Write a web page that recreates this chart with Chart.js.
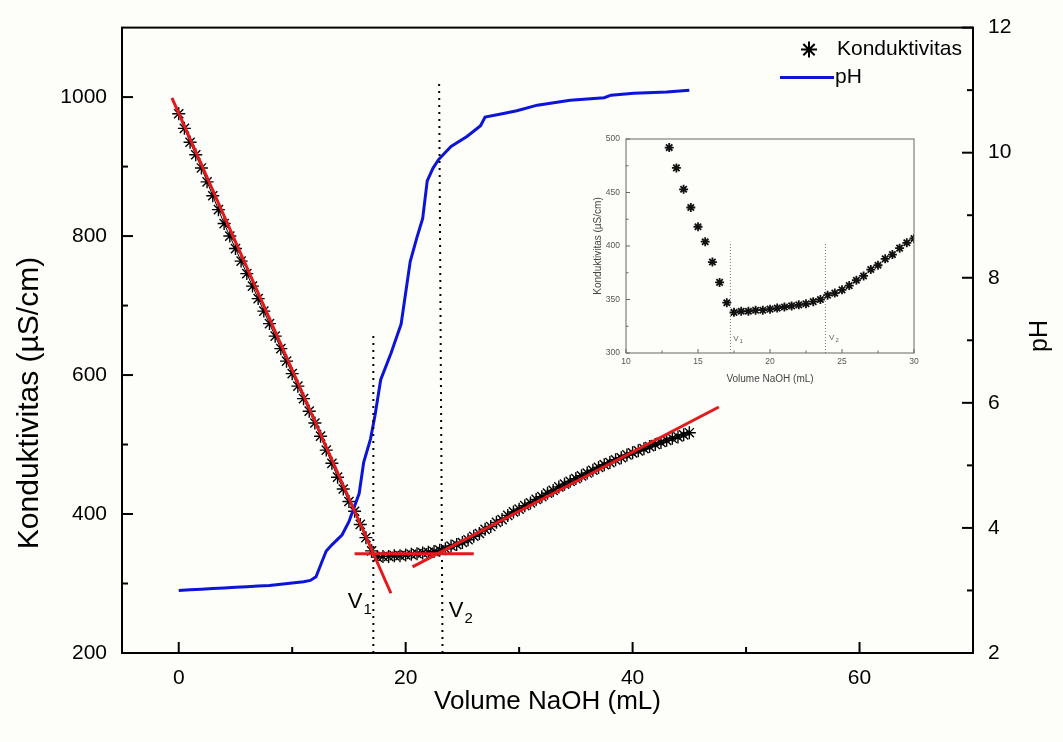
<!DOCTYPE html>
<html>
<head>
<meta charset="utf-8">
<script src="https://cdn.jsdelivr.net/npm/chart.js@4.4.0/dist/chart.umd.min.js"></script>
<style>
  html, body { margin: 0; padding: 0; background: #fdfdfa; }
  #wrap { position: relative; width: 1063px; height: 742px; }
  #main { position: absolute; left: 0; top: 0; }
  #inset { position: absolute; left: 560px; top: 120px; }
</style>
</head>
<body>
<div id="wrap">
  <canvas id="main" width="1063" height="742"></canvas>
  <canvas id="inset" width="370" height="265"></canvas>
</div>
<script>
// volume NaOH (mL) and conductivity (µS/cm)
const volume = [0, 0.5, 1, 1.5, 2, 2.5, 3, 3.5, 4, 4.5, 5, 5.5, 6, 6.5, 7, 7.5, 8, 8.5, 9, 9.5,
  10, 10.5, 11, 11.5, 12, 12.5, 13, 13.5, 14, 14.5, 15, 15.5, 16, 16.5, 17, 17.5, 18, 18.5, 19, 19.5,
  20, 20.5, 21, 21.5, 22, 22.5, 23, 23.5, 24, 24.5, 25, 25.5, 26, 26.5, 27, 27.5, 28, 28.5, 29, 29.5,
  30, 30.5, 31, 31.5, 32, 32.5, 33, 33.5, 34, 34.5, 35, 35.5, 36, 36.5, 37, 37.5, 38, 38.5, 39, 39.5,
  40, 40.5, 41, 41.5, 42, 42.5, 43, 43.5, 44, 44.5, 45];
const conductivity = [976, 955, 935, 917, 898, 878, 858, 838, 818, 800,
  782, 764, 746, 728, 710, 692, 674, 656, 638, 620,
  602, 584, 566, 548, 531, 512, 492, 473, 453, 436,
  418, 404, 385, 366, 347, 338, 339, 339, 340, 340,
  341, 342, 343, 344, 345, 346, 348, 350, 354, 356,
  359, 363, 368, 372, 378, 382, 388, 392, 398, 403,
  407, 412, 416, 421, 425, 430, 434, 439, 443, 447,
  451, 455, 459, 463, 467, 471, 474, 478, 481, 485,
  488, 491, 494, 497, 500, 503, 506, 509, 511, 514,
  517];

// pH curve
const phVolume = [0, 1, 2, 3, 4, 5, 6, 7, 8, 9, 10, 11, 11.6, 12.1, 12.6, 13, 13.5, 14.4, 15, 15.5,
  15.9, 16.3, 16.9, 17.3, 17.8, 18.7, 19.6, 20.4, 21, 21.5, 21.9, 22.4, 22.9, 24, 25.4, 26.6, 27,
  28.4, 29.8, 31.6, 34.5, 37.5, 38.1, 40.1, 43, 45];
const phValues = [3.0, 3.01, 3.02, 3.03, 3.04, 3.05, 3.06, 3.07, 3.08, 3.1, 3.12, 3.14, 3.16, 3.22, 3.45, 3.63, 3.73, 3.89, 4.1, 4.35,
  4.55, 5.05, 5.42, 5.8, 6.37, 6.79, 7.26, 8.26, 8.65, 8.95, 9.55, 9.75, 9.89, 10.1, 10.26, 10.43, 10.57,
  10.62, 10.67, 10.76, 10.84, 10.88, 10.92, 10.95, 10.97, 11.0];

// linear fits (red) and equivalence points (dotted)
const fitDownX = [-0.6, 18.7], fitDownY = [999, 286];
const fitFlatX = [15.5, 26.0], fitFlatY = [343, 343];
const fitUpX = [20.6, 47.6], fitUpY = [324, 554];
const v1X = [17.15, 17.15], v1Y = [200, 662];
const v2X = [23.25, 22.95], v2Y = [200, 1019];
const insetV1X = [17.25, 17.25], insetV1Y = [300, 404];
const insetV2X = [23.85, 23.85], insetV2Y = [300, 403];

// ticks
const xMajor = [0, 20, 40, 60], xMinor = [10, 30, 50];
const yMajor = [200, 400, 600, 800, 1000], yMinor = [300, 500, 700, 900];
const phMajor = [2, 4, 6, 8, 10, 12], phMinor = [3, 5, 7, 9, 11];
const insetXMajor = [10, 15, 20, 25, 30], insetXMinor = [12.5, 17.5, 22.5, 27.5];
const insetYMajor = [300, 350, 400, 450, 500], insetYMinor = [325, 375, 425, 475];

const FONT = "'Liberation Sans', Arial, sans-serif";
const pts = (xs, ys) => xs.map((x, i) => ({x: x, y: ys[i]}));
const plain = v => String(v);

function decor(cfg) {
  return {
    id: 'decor',
    afterDraw(chart) {
      const {ctx, chartArea: a, scales} = chart;
      ctx.save();
      ctx.strokeStyle = cfg.color;
      ctx.lineWidth = cfg.frame;
      ctx.strokeRect(a.left, a.top, a.right - a.left, a.bottom - a.top);
      ctx.lineWidth = cfg.tick;
      cfg.ticks.forEach(t => {
        const s = scales[t.axis];
        t.values.forEach(v => {
          const p = s.getPixelForValue(v);
          ctx.beginPath();
          if (t.side == 'bottom') { ctx.moveTo(p, a.bottom); ctx.lineTo(p, a.bottom - t.len); }
          else if (t.side == 'left') { ctx.moveTo(a.left, p); ctx.lineTo(a.left + t.len, p); }
          else { ctx.moveTo(a.right, p); ctx.lineTo(a.right - t.len, p); }
          ctx.stroke();
        });
      });
      // V1 / V2 labels
      ctx.fillStyle = cfg.color;
      ctx.textBaseline = 'alphabetic';
      ctx.textAlign = 'left';
      cfg.labels.forEach(l => {
        const x = scales.x.getPixelForValue(l.x), y = scales.y.getPixelForValue(l.y);
        ctx.font = cfg.vFont + 'px ' + FONT;
        ctx.fillText('V', x, y);
        const w = ctx.measureText('V').width;
        ctx.font = cfg.subFont + 'px ' + FONT;
        ctx.fillText(l.sub, x + w + 1, y + cfg.subDrop);
      });
      if (cfg.extra) cfg.extra(chart, ctx);
      ctx.restore();
    }
  };
}

new Chart('main', {
  type: 'scatter',
  data: {
    datasets: [
      {data: pts(fitDownX, fitDownY), showLine: true, borderColor: '#e3191b', borderWidth: 3, pointRadius: 0},
      {data: pts(fitFlatX, fitFlatY), showLine: true, borderColor: '#e3191b', borderWidth: 3, pointRadius: 0},
      {data: pts(fitUpX, fitUpY), showLine: true, borderColor: '#e3191b', borderWidth: 3, pointRadius: 0},
      {data: pts(v1X, v1Y), showLine: true, borderColor: '#000', borderWidth: 2, borderDash: [2, 5], pointRadius: 0},
      {data: pts(v2X, v2Y), showLine: true, borderColor: '#000', borderWidth: 2, borderDash: [2, 5], pointRadius: 0},
      {label: 'pH', data: pts(phVolume, phValues), yAxisID: 'y2', showLine: true, borderColor: '#0c14d8', borderWidth: 3, pointRadius: 0},
      {label: 'Konduktivitas', data: pts(volume, conductivity), showLine: true, borderColor: '#000', borderWidth: 1,
        pointStyle: 'star', pointRadius: 6.5, pointBorderWidth: 1.4, pointBorderColor: '#000'}
    ]
  },
  options: {
    responsive: false,
    animation: false,
    layout: {padding: {top: 20, left: 0, right: 0, bottom: 0}},
    plugins: {legend: {display: false}, tooltip: {enabled: false}},
    scales: {
      x: {
        type: 'linear', min: -5, max: 70,
        grid: {display: false, drawTicks: false}, border: {display: false},
        ticks: {stepSize: 20, includeBounds: false, padding: 13, color: '#000', font: {family: FONT, size: 21}, callback: plain},
        title: {display: true, text: 'Volume NaOH (mL)', color: '#000', font: {family: FONT, size: 26}, padding: {top: 0, bottom: 25}},
        afterFit: s => { s.height = 89; }
      },
      y: {
        position: 'left', min: 200, max: 1100,
        grid: {display: false, drawTicks: false}, border: {display: false},
        ticks: {stepSize: 200, includeBounds: false, padding: 15, color: '#000', font: {family: FONT, size: 21}, callback: plain},
        afterFit: s => { s.width = 122; }
      },
      y2: {
        position: 'right', min: 2, max: 12,
        grid: {display: false, drawTicks: false}, border: {display: false},
        ticks: {stepSize: 2, includeBounds: false, padding: 15, color: '#000', font: {family: FONT, size: 21}, callback: plain},
        afterFit: s => { s.width = 90; }
      }
    }
  },
  plugins: [decor({
    color: '#000', frame: 2, tick: 2, vFont: 22, subFont: 15, subDrop: 6,
    ticks: [
      {axis: 'x', side: 'bottom', values: xMajor, len: 11},
      {axis: 'x', side: 'bottom', values: xMinor, len: 6},
      {axis: 'y', side: 'left', values: yMajor, len: 11},
      {axis: 'y', side: 'left', values: yMinor, len: 6},
      {axis: 'y2', side: 'right', values: phMajor, len: 11},
      {axis: 'y2', side: 'right', values: phMinor, len: 6}
    ],
    labels: [{x: 14.9, y: 265, sub: '1'}, {x: 23.8, y: 252, sub: '2'}],
    extra: (chart, ctx) => {
      // axis titles drawn by hand (Origin-style placement)
      ctx.fillStyle = '#000';
      ctx.textAlign = 'center';
      ctx.textBaseline = 'middle';
      ctx.font = '30px ' + FONT;
      ctx.save(); ctx.translate(30, 403); ctx.rotate(-Math.PI / 2);
      ctx.fillText('Konduktivitas (µS/cm)', 0, 0); ctx.restore();
      ctx.font = '25px ' + FONT;
      ctx.save(); ctx.translate(1040, 336); ctx.rotate(-Math.PI / 2);
      ctx.fillText('pH', 0, 0); ctx.restore();
      // legend
      const a = chart.chartArea;
      ctx.strokeStyle = '#000';
      Chart.helpers.drawPoint(ctx, {pointStyle: 'star', radius: 8, borderWidth: 1.5}, a.right - 164, a.top + 22);
      ctx.strokeStyle = '#0c14d8'; ctx.lineWidth = 3;
      ctx.beginPath(); ctx.moveTo(a.right - 193, a.top + 50); ctx.lineTo(a.right - 139, a.top + 50); ctx.stroke();
      ctx.textAlign = 'left';
      ctx.font = '21px ' + FONT;
      ctx.fillText('Konduktivitas', a.right - 136, a.top + 22);
      ctx.fillText('pH', a.right - 138, a.top + 50);
    }
  })]
});

new Chart('inset', {
  type: 'scatter',
  data: {
    datasets: [
      {data: pts(insetV1X, insetV1Y), showLine: true, borderColor: '#777', borderWidth: 1, borderDash: [1, 2], pointRadius: 0},
      {data: pts(insetV2X, insetV2Y), showLine: true, borderColor: '#777', borderWidth: 1, borderDash: [1, 2], pointRadius: 0},
      {data: pts(volume, conductivity), showLine: false, pointStyle: 'star', pointRadius: 4.5,
        pointBorderWidth: 1.8, pointBorderColor: '#111', clip: 0}
    ]
  },
  options: {
    responsive: false,
    animation: false,
    layout: {padding: {top: 19, left: 0, right: 16, bottom: 0}},
    plugins: {legend: {display: false}, tooltip: {enabled: false}},
    scales: {
      x: {
        type: 'linear', min: 10, max: 30,
        grid: {display: false, drawTicks: false}, border: {display: false},
        ticks: {stepSize: 5, padding: 4, color: '#555', font: {family: FONT, size: 8.5}},
        title: {display: true, text: 'Volume NaOH (mL)', color: '#444', font: {family: FONT, size: 10}, padding: {top: 0, bottom: 0}},
        afterFit: s => { s.height = 32; }
      },
      y: {
        position: 'left', min: 300, max: 500,
        grid: {display: false, drawTicks: false}, border: {display: false},
        ticks: {stepSize: 50, padding: 6, color: '#555', font: {family: FONT, size: 8.5}},
        title: {display: true, text: 'Konduktivitas (µS/cm)', color: '#444', font: {family: FONT, size: 10}, padding: {top: 32, bottom: 0}},
        afterFit: s => { s.width = 66; }
      }
    }
  },
  plugins: [decor({
    color: '#666', frame: 1, tick: 1, vFont: 8, subFont: 6, subDrop: 2,
    ticks: [
      {axis: 'x', side: 'bottom', values: insetXMajor, len: 4},
      {axis: 'x', side: 'bottom', values: insetXMinor, len: 2.5},
      {axis: 'y', side: 'left', values: insetYMajor, len: 4},
      {axis: 'y', side: 'left', values: insetYMinor, len: 2.5}
    ],
    labels: [{x: 17.45, y: 311, sub: '1'}, {x: 24.1, y: 312, sub: '2'}]
  })]
});
</script>
</body>
</html>
